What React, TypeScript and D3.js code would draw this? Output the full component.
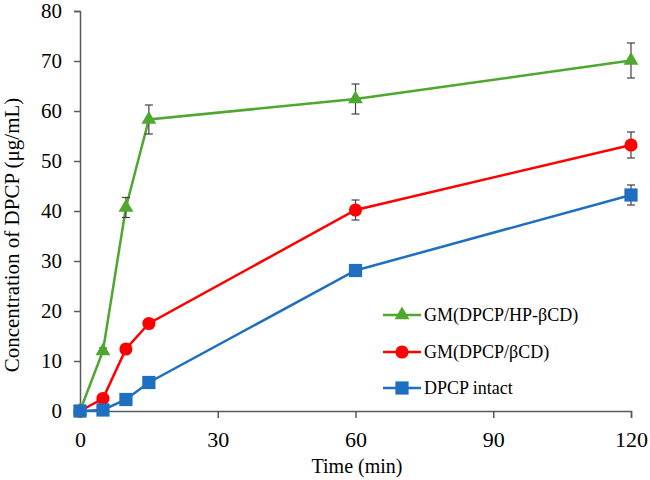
import { useEffect, useRef } from 'react';
import * as d3 from 'd3';

const times = [0, 5, 10, 15, 60, 120];
const hpbcdValues = [0, 12, 40.7, 58.3, 62.4, 70.1];
const hpbcdErrors = [0, 0.6, 2, 2.9, 3, 3.5];
const bcdValues = [0, 2.5, 12.4, 17.5, 40.2, 53.2];
const bcdErrors = [0, 0.4, 0.6, 0.7, 2, 2.6];
const intactValues = [0, 0.2, 2.3, 5.7, 28.1, 43.2];
const intactErrors = [0, 0.2, 0.4, 0.6, 1, 2];
const xTicks = [0, 30, 60, 90, 120];
const yTicks = [0, 10, 20, 30, 40, 50, 60, 70, 80];

const series = [
  { name: 'GM(DPCP/HP-βCD)', values: hpbcdValues, errors: hpbcdErrors, color: '#4ea72e', symbol: d3.symbolTriangle, size: 95 },
  { name: 'GM(DPCP/βCD)', values: bcdValues, errors: bcdErrors, color: '#ff0000', symbol: d3.symbolCircle, size: 135 },
  { name: 'DPCP intact', values: intactValues, errors: intactErrors, color: '#1f6fc0', symbol: d3.symbolSquare, size: 175 },
];

export default function App() {
  const svgRef = useRef<SVGSVGElement>(null);

  useEffect(() => {
    if (!svgRef.current) return;
    const width = 650;
    const height = 480;
    const font = '"Liberation Serif", "Times New Roman", serif';

    const root = d3.select(svgRef.current);
    root.selectAll('*').remove();
    root.append('rect').attr('width', width).attr('height', height).attr('fill', '#fff');

    const x = d3.scaleLinear().domain([0, 120]).range([80, 631]);
    const y = d3.scaleLinear().domain([0, 80]).range([411, 11]);

    // Osi
    const yAxis = root
      .append('g')
      .attr('transform', 'translate(80,0)')
      .call(d3.axisLeft(y).tickValues(yTicks).tickSize(6).tickPadding(12));
    yAxis.selectAll('text').attr('fill', '#000').style('font-size', '21px').style('font-family', font);

    const xAxis = root
      .append('g')
      .attr('transform', 'translate(0,411)')
      .call(d3.axisBottom(x).tickValues(xTicks).tickSize(7).tickPadding(13));
    xAxis.selectAll('text').attr('fill', '#000').style('font-size', '22px').style('font-family', font);

    root.selectAll('.domain').attr('stroke', '#595959').attr('stroke-width', 1.5);
    root.selectAll('.tick line').attr('stroke', '#595959').attr('stroke-width', 1.5);

    // Serije
    const line = d3
      .line<number>()
      .x((_, i) => x(times[i]))
      .y((d) => y(d));

    for (const s of series) {
      root
        .append('path')
        .datum(s.values)
        .attr('d', line)
        .attr('fill', 'none')
        .attr('stroke', s.color)
        .attr('stroke-width', 2.5);

      // Error bars
      s.values.forEach((v, i) => {
        const e = s.errors[i];
        if (e <= 0.5) return;
        const cx = x(times[i]);
        const g = root.append('g').attr('stroke', '#404040').attr('stroke-width', 1.2);
        g.append('line').attr('x1', cx).attr('x2', cx).attr('y1', y(v - e)).attr('y2', y(v + e));
        g.append('line').attr('x1', cx - 4).attr('x2', cx + 4).attr('y1', y(v + e)).attr('y2', y(v + e));
        g.append('line').attr('x1', cx - 4).attr('x2', cx + 4).attr('y1', y(v - e)).attr('y2', y(v - e));
      });

      root
        .selectAll(null)
        .data(s.values)
        .enter()
        .append('path')
        .attr('d', d3.symbol().type(s.symbol).size(s.size))
        .attr('transform', (d, i) => `translate(${x(times[i])},${y(d)})`)
        .attr('fill', s.color);
    }

    // Legenda
    const rows = [315, 352, 388];
    series.forEach((s, i) => {
      const ly = rows[i];
      root.append('line').attr('x1', 383).attr('x2', 421).attr('y1', ly).attr('y2', ly).attr('stroke', s.color).attr('stroke-width', 2.5);
      root
        .append('path')
        .attr('d', d3.symbol().type(s.symbol).size(s.size))
        .attr('transform', `translate(402,${ly})`)
        .attr('fill', s.color);
      root
        .append('text')
        .attr('x', 424)
        .attr('y', ly + 6)
        .text(s.name)
        .attr('fill', '#000')
        .style('font-size', '18px')
        .style('font-family', font);
    });

    // Naslovi osi
    root
      .append('text')
      .attr('x', 357)
      .attr('y', 473)
      .attr('text-anchor', 'middle')
      .text('Time (min)')
      .style('font-size', '20px')
      .style('font-family', font);

    root
      .append('text')
      .attr('transform', 'translate(19,235) rotate(-90)')
      .attr('text-anchor', 'middle')
      .text('Concentration of DPCP (μg/mL)')
      .style('font-size', '21px')
      .style('font-family', font);
  }, []);

  return (
    <svg
      ref={svgRef}
      width={650}
      height={480}
      style={{ display: 'block', position: 'absolute', left: 0, top: 0 }}
    />
  );
}
